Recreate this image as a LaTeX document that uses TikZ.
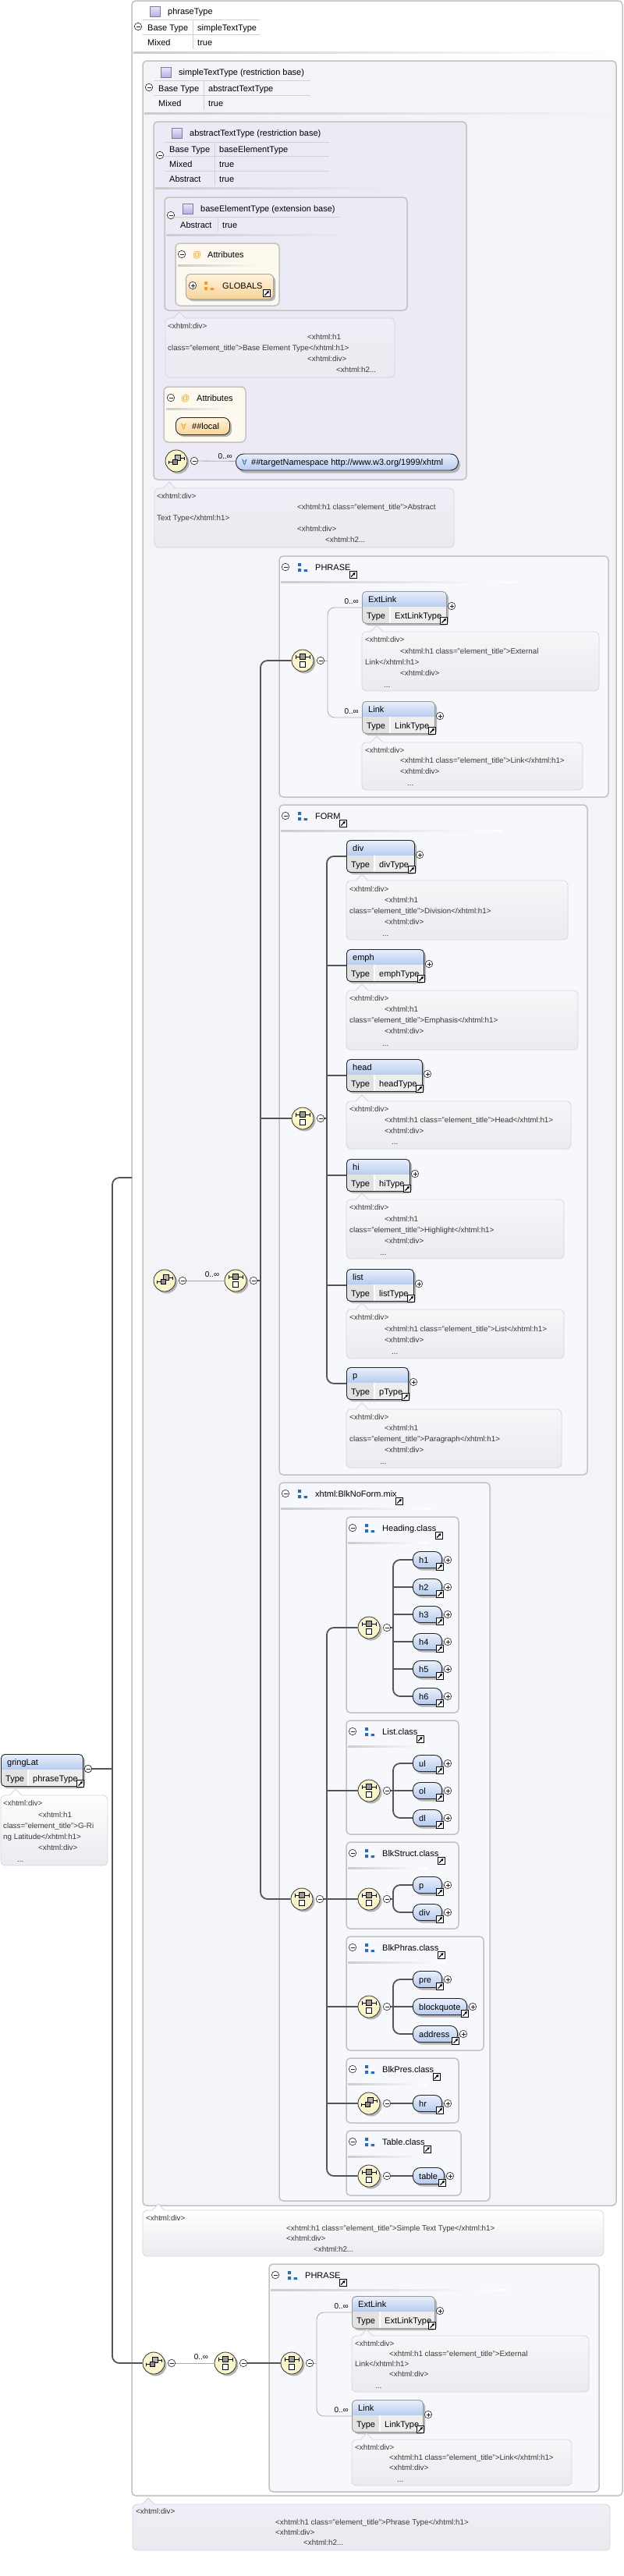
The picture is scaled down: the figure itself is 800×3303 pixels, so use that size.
\documentclass[tikz,border=0pt]{standalone}
\usepackage{fontspec}
\setmainfont{Liberation Sans}
\newfontfamily\symf{DejaVu Sans}
\usetikzlibrary{arrows.meta}
\definecolor{hdtop}{HTML}{E9F0FC}
\definecolor{hdbot}{HTML}{B7CBEF}
\definecolor{rowc}{HTML}{EEEEEE}
\definecolor{rowd}{HTML}{E2E2E2}
\definecolor{shadowc}{HTML}{B4B4B4}
\definecolor{lnc}{HTML}{555555}
\definecolor{thinc}{HTML}{AAAAAA}
\definecolor{frc}{HTML}{C2C2C2}
\definecolor{grpfill}{HTML}{F7F8FC}
\definecolor{lav1}{HTML}{F4F3F8}
\definecolor{lav2}{HTML}{ECEAF4}
\definecolor{cream}{HTML}{FDF9EE}
\definecolor{orgtop}{HTML}{FFF3DC}
\definecolor{orgbot}{HTML}{F8D49C}
\definecolor{compc}{HTML}{FAF6C9}
\definecolor{grpblue}{HTML}{2A6DB5}
\definecolor{orgico}{HTML}{F0A020}
\definecolor{doctop}{HTML}{F7F7F9}
\definecolor{docbot}{HTML}{EAEAF0}
\definecolor{lavtop}{HTML}{F0EEF6}
\definecolor{docln}{HTML}{D6D6DE}
\definecolor{doctxt}{HTML}{3A3A3A}
\definecolor{typtop}{HTML}{EAE6FA}
\definecolor{typbot}{HTML}{B8AEE0}

\newcommand\elem[8][black!85]{%
  \fill[shadowc,rounded corners=5] (#3+3,#4+3) rectangle ++(#5,41);
  \begin{scope}
    \clip[rounded corners=5] (#3,#4) rectangle ++(#5,41);
    \shade[top color=hdtop,bottom color=hdbot] (#3,#4) rectangle ++(#5,20);
    \fill[rowc] (#3,#4+20) rectangle ++(#5,21);
    \fill[rowd] (#3,#4+20) rectangle ++(#8,21);
    \draw[white,line width=1.2] (#3+#8,#4+20) -- ++(0,21);
  \end{scope}
  \node[elbox,draw=#1,minimum width=#5] (#2) at (#3,#4) {};
  \node[lbl] at (#3+8,#4+14) {#6};
  \node[lbl] at (#3+6,#4+35) {Type};
  \node[lbl] at (#3+#8+6,#4+35) {#7};
  \node[plusc] at (#3+#5+7,#4+19) {};
  \pic at (#3+#5-3,#4+38) {linkico};
}
\newcommand\pill[5]{%
  \fill[shadowc,rounded corners=9] (#2+3,#3-7.5) rectangle ++(#4,21);
  \node[pillbox,minimum width=#4] (#1) at (#2,#3) {};
  \node[lbl] at (#2+8,#3+4) {#5};
  \node[plusc] at (#2+#4+8,#3) {};
  \pic at (#2+#4-2,#3+9) {linkico};
}
\newcommand\comp[4]{%
  \fill[shadowc] (#2+2.5,#3+2.5) circle[radius=14pt];
  \node[compn] (#1) at (#2,#3) {};
  \pic at (#2,#3) {#4};
  \node[minusc] (m-#1) at (#2+23,#3) {};
}
\newcommand\grp[5]{%
  \draw[grpframe] (#1,#2) rectangle (#3,#4);
  \node[minusc] at (#1+8,#2+14) {};
  \pic at (#1+30,#2+14) {bluegrp};
  \node[lbl] (gt) at (#1+46,#2+18) {#5};
  \pic at ([shift={(3pt,-6pt)}]gt.base east) {linkico};
  \shade[sep] (#1+2,#2+32) rectangle ({#1+0.72*(#3-#1)},#2+34);
}
\newcommand\docbox[6][doctop]{%
  \draw[docst,top color=#1] (#2,#3) rectangle (#4,#5);
  \fill[#1] (#6-8,#3+1) -- (#6,#3-8) -- (#6+8,#3+1) -- cycle;
  \draw[docln,line width=.8] (#6-8,#3) -- (#6,#3-8) -- (#6+8,#3);
}
\newcommand\dl[3]{\node[doct] at (#1,#2+3.5) {#3};}

\begin{document}
\begin{tikzpicture}[x=1pt,y=-1pt,
  lbl/.style={anchor=base west,inner sep=0,font=\fontsize{11}{13}\selectfont},
  doct/.style={anchor=base west,inner sep=0,font=\fontsize{9.8}{12}\selectfont,text=doctxt},
  numl/.style={anchor=base,inner sep=0,font=\fontsize{10}{12}\selectfont},
  elbox/.style={rounded corners=5,minimum height=41,inner sep=0,anchor=north west,line width=.9},
  pillbox/.style={anchor=west,rounded corners=9,minimum height=21,inner sep=0,draw=black!85,line width=.9,top color=hdtop,bottom color=hdbot},
  compn/.style={circle,minimum size=28,inner sep=0,draw=black!80,line width=.8,fill=compc},
  plusc/.style={circle,draw=black!85,fill=white,minimum size=9.5,inner sep=0,line width=.6,
    path picture={\draw[line width=.6] ([xshift=-2.5pt]path picture bounding box.center) -- ([xshift=2.5pt]path picture bounding box.center) ([yshift=-2.5pt]path picture bounding box.center) -- ([yshift=2.5pt]path picture bounding box.center);}},
  minusc/.style={circle,draw=black!85,fill=white,minimum size=9.5,inner sep=0,line width=.6,
    path picture={\draw[line width=.6] ([xshift=-2.5pt]path picture bounding box.center) -- ([xshift=2.5pt]path picture bounding box.center);}},
  thickln/.style={draw=lnc,line width=1.8,rounded corners=9},
  thinln/.style={draw=thinc,line width=.8,rounded corners=9},
  grpframe/.style={draw=frc,line width=1.5,fill=grpfill,rounded corners=5},
  typeframe/.style={draw=frc,line width=1.5,rounded corners=5},
  docst/.style={draw=docln,line width=.8,bottom color=docbot,rounded corners=6},
  tbl/.style={draw=black!18,line width=.8},
  sep/.style={left color=black!20,right color=white},
  attrbox/.style={draw=frc,line width=1.5,fill=cream,rounded corners=6},
  pics/linkico/.style={code={
    \draw[fill=white,line width=.6] (-4.5,-4.5) rectangle (4.5,4.5);
    \draw[line width=1.1,-{Triangle[length=3pt,width=3.6pt]}] (-2.6,2.6) -- (2.9,-2.9);}},
  pics/seqico/.style={code={
    \draw[line width=.7] (-9,-5) -- (9,-5) (-9,-7.5) -- (-9,-2.5) (9,-7.5) -- (9,-2.5);
    \draw[fill=black!40,line width=.6] (-3.5,-8.5) rectangle (3.5,-1.5);
    \draw[fill=white,line width=.6] (-3.5,1) rectangle (3.5,8);}},
  pics/anyico/.style={code={
    \draw[line width=.7] (-10,1.5) -- (-5,1.5) (5,-3.5) -- (10,-3.5) (-10,-0.5) -- (-10,3.5) (10,-5.5) -- (10,-1.5);
    \draw[fill=black!30,line width=.6] (-1.5,-7.5) rectangle (5,-1);
    \draw[fill=black!45,line width=.6] (-5,-2) rectangle (1.5,4.5);}},
  pics/bluegrp/.style={code={
    \fill[grpblue] (-6,-5) rectangle (-2,-1) (-6,2) rectangle (-2,6) (1.5,3) rectangle (6,6);}},
  pics/orggrp/.style={code={
    \fill[orgico] (-6,-5) rectangle (-2,-1) (-6,2) rectangle (-2,6) (1.5,3) rectangle (6,6);}},
  pics/typico/.style={code={
    \shadedraw[top color=typtop,bottom color=typbot,draw=typbot!70!black,line width=.6] (-6.5,-6.5) rectangle (6.5,6.5);}}]

\fill[white] (0,0) rectangle (800,3303);
\useasboundingbox (0,0) rectangle (800,3303);

\draw[typeframe,fill=white] (169,1) rectangle (798,3200);
\pic at (198.5,14.5) {typico};
\node[lbl] (t-phrasetype) at (215,18.5) {phraseType};
\node[minusc] at (177,34) {};
\draw[tbl] (183,25) -- (333,25) (183,44) -- (333,44) (247,25) -- (247,63);
\node[lbl] at (189,39) {Base Type};
\node[lbl] at (253,39) {simpleTextType};
\node[lbl] at (189,58) {Mixed};
\node[lbl] at (253,58) {true};
\shade[sep] (171,66) rectangle (796,68);

\draw[typeframe,fill=lav1] (183,78) rectangle (790,2828);
\pic at (212.5,92.5) {typico};
\node[lbl] (t-simple) at (229,96.5) {simpleTextType (restriction base)};
\node[minusc] at (191,112) {};
\draw[tbl] (197,103) -- (398,103) (197,122) -- (398,122) (261,103) -- (261,141);
\node[lbl] at (203,117) {Base Type};
\node[lbl] at (267,117) {abstractTextType};
\node[lbl] at (203,136) {Mixed};
\node[lbl] at (267,136) {true};
\shade[sep,right color=lav1] (185,144) rectangle (788,146);

\draw[typeframe,fill=lav2] (197,156) rectangle (598,615);
\pic at (226.5,170.5) {typico};
\node[lbl] (t-abstract) at (243,174.5) {abstractTextType (restriction base)};
\node[minusc] at (205,199) {};
\draw[tbl] (211,182) -- (422,182) (211,200) -- (422,200) (211,219) -- (422,219) (275,182) -- (275,238);
\node[lbl] at (217,195) {Base Type};
\node[lbl] at (281,195) {baseElementType};
\node[lbl] at (217,214) {Mixed};
\node[lbl] at (281,214) {true};
\node[lbl] at (217,233) {Abstract};
\node[lbl] at (281,233) {true};
\shade[sep,right color=lav2] (199,240) rectangle (500,242);

\draw[typeframe,fill=lav2] (211,253) rectangle (522,398);
\pic at (240.5,267.5) {typico};
\node[lbl] (t-base) at (257,271.5) {baseElementType (extension base)};
\node[minusc] at (219,276) {};
\draw[tbl] (222,278) -- (435,278) (279,278) -- (279,297);
\node[lbl] at (231,292) {Abstract};
\node[lbl] at (285,292) {true};
\shade[sep,right color=lav2] (213,300) rectangle (450,302);

\draw[attrbox] (225,312) rectangle (358,392);
\node[minusc] at (233,326) {};
\node[lbl,text=orgico] at (247,330) {@};
\node[lbl] at (266,330) {Attributes};
\shade[sep,right color=cream] (228,339) rectangle (330,341);
\fill[shadowc,rounded corners=6] (241,354) rectangle (353,386);
\node[draw=black!35,line width=.9,top color=orgtop,bottom color=orgbot,rounded corners=6,minimum width=112,minimum height=32,inner sep=0,anchor=north west] (a-globals) at (238,351) {};
\node[plusc] at (247,366) {};
\pic at (268,366) {orggrp};
\node[lbl] at (285,370.5) {GLOBALS};
\pic at (342,376) {linkico};

\docbox[lavtop]{212}{408}{506}{484}{230}
\dl{215}{418}{<xhtml:div>}
\dl{394}{432}{<xhtml:h1}
\dl{215}{446}{class="element\_title">Base Element Type</xhtml:h1>}
\dl{394}{460}{<xhtml:div>}
\dl{431}{474}{<xhtml:h2...}

\draw[attrbox] (210,496) rectangle (315,567);
\node[minusc] at (219,510) {};
\node[lbl,text=orgico] at (232,514.5) {@};
\node[lbl] at (252,514.5) {Attributes};
\shade[sep,right color=cream] (213,523) rectangle (290,525);
\fill[shadowc,rounded corners=8] (228,538) rectangle (297,560);
\node[draw=black!85,line width=.9,top color=orgtop,bottom color=orgbot,rounded corners=8,minimum width=69,minimum height=22,inner sep=0,anchor=north west] (a-local) at (225,535) {};
\node[lbl,text=orgico,font=\symf\fontsize{10}{12}\selectfont] at (232,550.5) {∀};
\node[lbl] at (246,550.5) {\#\#local};

\comp{c-anyattr}{226}{591}{anyico}
\fill[shadowc,rounded corners=10] (305,585.5) rectangle (590,606.5);
\node[pillbox,rounded corners=10,minimum width=285] (p-targetns) at (302,592.5) {};
\node[lbl,text=grpblue,font=\symf\fontsize{10}{12}\selectfont] at (310,596.5) {∀};
\node[lbl] at (322,596.5) {\#\#targetNamespace http://www.w3.org/1999/xhtml};
\node[numl,anchor=base east] at (298,588) {0..∞};

\docbox[lavtop]{198}{626}{582}{702}{217}
\dl{201}{636}{<xhtml:div>}
\dl{381}{650}{<xhtml:h1 class="element\_title">Abstract}
\dl{201}{664}{Text Type</xhtml:h1>}
\dl{381}{678}{<xhtml:div>}
\dl{417}{692}{<xhtml:h2...}

\grp{358}{713}{780}{1022}{PHRASE}
\comp{c-phrase}{388}{847}{seqico}
\elem[black!40]{e-extlink}{464}{758}{108}{ExtLink}{ExtLinkType}{36}
\node[numl,anchor=base east] at (460,774) {0..∞};
\docbox{464}{810}{768}{886}{483}
\dl{468}{820}{<xhtml:div>}
\dl{513}{835}{<xhtml:h1 class="element\_title">External}
\dl{468}{849}{Link</xhtml:h1>}
\dl{513}{863}{<xhtml:div>}
\dl{492}{878}{...}
\elem[black!40]{e-link}{464}{899}{93}{Link}{LinkType}{36}
\node[numl,anchor=base east] at (460,915) {0..∞};
\docbox{464}{952}{747}{1013}{483}
\dl{468}{962}{<xhtml:div>}
\dl{513}{975}{<xhtml:h1 class="element\_title">Link</xhtml:h1>}
\dl{513}{989}{<xhtml:div>}
\dl{522}{1004}{...}

\grp{358}{1032}{753}{1891}{FORM}
\comp{c-form}{388}{1434}{seqico}
\elem{e-div}{444}{1077}{87}{div}{divType}{36}
\docbox{444}{1129}{728}{1205}{464}
\dl{448}{1140}{<xhtml:div>}
\dl{493}{1154}{<xhtml:h1}
\dl{448}{1168}{class="element\_title">Division</xhtml:h1>}
\dl{493}{1182}{<xhtml:div>}
\dl{490}{1197}{...}
\elem{e-emph}{444}{1217}{99}{emph}{emphType}{36}
\docbox{444}{1270}{741}{1346}{464}
\dl{448}{1280}{<xhtml:div>}
\dl{493}{1294}{<xhtml:h1}
\dl{448}{1308}{class="element\_title">Emphasis</xhtml:h1>}
\dl{493}{1322}{<xhtml:div>}
\dl{490}{1338}{...}
\elem{e-head}{444}{1358}{97}{head}{headType}{36}
\docbox{444}{1412}{732}{1473}{464}
\dl{448}{1422}{<xhtml:div>}
\dl{493}{1436}{<xhtml:h1 class="element\_title">Head</xhtml:h1>}
\dl{493}{1450}{<xhtml:div>}
\dl{502}{1464}{...}
\elem{e-hi}{444}{1486}{81}{hi}{hiType}{36}
\docbox{444}{1538}{723}{1614}{464}
\dl{448}{1548}{<xhtml:div>}
\dl{493}{1563}{<xhtml:h1}
\dl{448}{1577}{class="element\_title">Highlight</xhtml:h1>}
\dl{493}{1591}{<xhtml:div>}
\dl{487}{1606}{...}
\elem{e-list}{444}{1627}{86}{list}{listType}{36}
\docbox{444}{1679}{723}{1742}{464}
\dl{448}{1689}{<xhtml:div>}
\dl{493}{1704}{<xhtml:h1 class="element\_title">List</xhtml:h1>}
\dl{493}{1718}{<xhtml:div>}
\dl{502}{1733}{...}
\elem{e-p}{444}{1753}{79}{p}{pType}{36}
\docbox{444}{1807}{720}{1882}{464}
\dl{448}{1817}{<xhtml:div>}
\dl{493}{1831}{<xhtml:h1}
\dl{448}{1845}{class="element\_title">Paragraph</xhtml:h1>}
\dl{493}{1859}{<xhtml:div>}
\dl{487}{1874}{...}

\grp{358}{1901}{628}{2822}{xhtml:BlkNoForm.mix}
\comp{c-blk}{387}{2435}{seqico}
\grp{444}{1945}{588}{2196}{Heading.class}
\comp{c-heading}{473}{2087}{seqico}
\pill{p-h1}{529}{2000}{37}{h1}
\pill{p-h2}{529}{2035}{37}{h2}
\pill{p-h3}{529}{2070}{37}{h3}
\pill{p-h4}{529}{2105}{37}{h4}
\pill{p-h5}{529}{2140}{37}{h5}
\pill{p-h6}{529}{2175}{37}{h6}
\grp{444}{2206}{588}{2352}{List.class}
\comp{c-list}{473}{2296}{seqico}
\pill{p-ul}{529}{2261}{37}{ul}
\pill{p-ol}{529}{2296}{37}{ol}
\pill{p-dl}{529}{2331}{37}{dl}
\grp{444}{2362}{588}{2473}{BlkStruct.class}
\comp{c-struct}{473}{2435}{seqico}
\pill{p-p}{529}{2417}{37}{p}
\pill{p-div}{529}{2452}{37}{div}
\grp{444}{2483}{620}{2629}{BlkPhras.class}
\comp{c-phras}{473}{2573}{seqico}
\pill{p-pre}{529}{2538}{37}{pre}
\pill{p-blockquote}{529}{2573}{69}{blockquote}
\pill{p-address}{529}{2608}{57}{address}
\grp{444}{2639}{588}{2722}{BlkPres.class}
\comp{c-pres}{473}{2697}{anyico}
\pill{p-hr}{529}{2697}{37}{hr}
\grp{444}{2732}{591}{2815}{Table.class}
\comp{c-table}{473}{2790}{seqico}
\pill{p-table}{529}{2790}{40}{table}

\comp{c-top}{211}{1642}{anyico}
\comp{c-seq}{302}{1642}{seqico}
\node[numl] at (272,1637) {0..∞};

\elem{e-gring}{1}{2249}{105}{gringLat}{phraseType}{35}
\node[minusc] (m-gring) at (113,2268) {};
\docbox[white]{1}{2302}{138}{2392}{20}
\dl{4}{2312}{<xhtml:div>}
\dl{49}{2327}{<xhtml:h1}
\dl{4}{2341}{class="element\_title">G-Ri}
\dl{4}{2355}{ng Latitude</xhtml:h1>}
\dl{49}{2369}{<xhtml:div>}
\dl{22}{2384}{...}

\docbox[white]{183}{2834}{774}{2893}{203}
\dl{187}{2844}{<xhtml:div>}
\dl{367}{2857}{<xhtml:h1 class="element\_title">Simple Text Type</xhtml:h1>}
\dl{367}{2870}{<xhtml:div>}
\dl{402}{2884}{<xhtml:h2...}

\grp{345}{2903}{768}{3195}{PHRASE}
\comp{c-bany}{197}{3030}{anyico}
\comp{c-bseq}{289}{3030}{seqico}
\comp{c-bch}{374}{3030}{seqico}
\node[numl] at (258,3025) {0..∞};
\elem[black!40]{e-extlink2}{451}{2944}{106}{ExtLink}{ExtLinkType}{36}
\node[numl,anchor=base east] at (447,2960) {0..∞};
\docbox{451}{2995}{755}{3067}{470}
\dl{455}{3005}{<xhtml:div>}
\dl{499}{3018}{<xhtml:h1 class="element\_title">External}
\dl{455}{3031}{Link</xhtml:h1>}
\dl{499}{3044}{<xhtml:div>}
\dl{481}{3059}{...}
\elem[black!40]{e-link2}{451}{3077}{91}{Link}{LinkType}{36}
\node[numl,anchor=base east] at (447,3093) {0..∞};
\docbox{451}{3128}{733}{3187}{470}
\dl{455}{3138}{<xhtml:div>}
\dl{499}{3151}{<xhtml:h1 class="element\_title">Link</xhtml:h1>}
\dl{499}{3164}{<xhtml:div>}
\dl{509}{3179}{...}

\docbox[lavtop]{170}{3211}{782}{3270}{190}
\dl{174}{3220}{<xhtml:div>}
\dl{353}{3234}{<xhtml:h1 class="element\_title">Phrase Type</xhtml:h1>}
\dl{353}{3247}{<xhtml:div>}
\dl{389}{3260}{<xhtml:h2...}

\coordinate (j-left) at (144,2268);
\coordinate (f-type) at (169,1510);
\coordinate (j-seq) at (334,1642);
\coordinate (j-phrase) at (420,847);
\coordinate (j-form) at (419,1434);
\coordinate (j-blk) at (419,2435);
\coordinate (j-heading) at (504,2087);
\coordinate (j-list) at (504,2296);
\coordinate (j-struct) at (504,2435);
\coordinate (j-phras) at (504,2573);
\coordinate (j-bch) at (406,3030);

\draw[thinln] (m-c-anyattr) -- (p-targetns);
\draw[thickln] (m-gring) -- (j-left);
\draw[thickln] (f-type) -| (j-left) |- (c-bany.west);
\draw[thinln] (m-c-top) -- (c-seq);
\draw[thickln] (m-c-seq) -- (j-seq);
\draw[thickln] (c-phrase.west) -| (j-seq) |- (c-blk.west);
\draw[thickln] (j-seq |- c-form.west) -- (c-form.west);
\draw[thinln] (m-c-phrase) -- (j-phrase);
\draw[thinln] (e-extlink.west) -| (j-phrase) |- (e-link.west);
\draw[thickln] (m-c-form) -- (j-form);
\draw[thickln] (e-div.west) -| (j-form) |- (e-p.west);
\foreach \e in {emph,head,hi,list}
  \draw[thickln] (j-form |- e-\e.west) -- (e-\e.west);
\draw[thickln] (m-c-blk) -- (j-blk);
\draw[thickln] (c-heading.west) -| (j-blk) |- (c-table.west);
\foreach \c in {list,struct,phras,pres}
  \draw[thickln] (j-blk |- c-\c.west) -- (c-\c.west);
\draw[thickln] (m-c-heading) -- (j-heading);
\draw[thickln] (p-h1.west) -| (j-heading) |- (p-h6.west);
\foreach \h in {h2,h3,h4,h5}
  \draw[thickln] (j-heading |- p-\h.west) -- (p-\h.west);
\draw[thickln] (m-c-list) -- (j-list);
\draw[thickln] (p-ul.west) -| (j-list) |- (p-dl.west);
\draw[thickln] (j-list) -- (p-ol.west);
\draw[thickln] (m-c-struct) -- (j-struct);
\draw[thickln] (p-p.west) -| (j-struct) |- (p-div.west);
\draw[thickln] (m-c-phras) -- (j-phras);
\draw[thickln] (p-pre.west) -| (j-phras) |- (p-address.west);
\draw[thickln] (j-phras) -- (p-blockquote.west);
\draw[thickln] (m-c-pres) -- (p-hr.west);
\draw[thickln] (m-c-table) -- (p-table.west);
\draw[thinln] (m-c-bany) -- (c-bseq);
\draw[thickln] (m-c-bseq) -- (c-bch);
\draw[thinln] (m-c-bch) -- (j-bch);
\draw[thinln] (e-extlink2.west) -| (j-bch) |- (e-link2.west);
\end{tikzpicture}
\end{document}
